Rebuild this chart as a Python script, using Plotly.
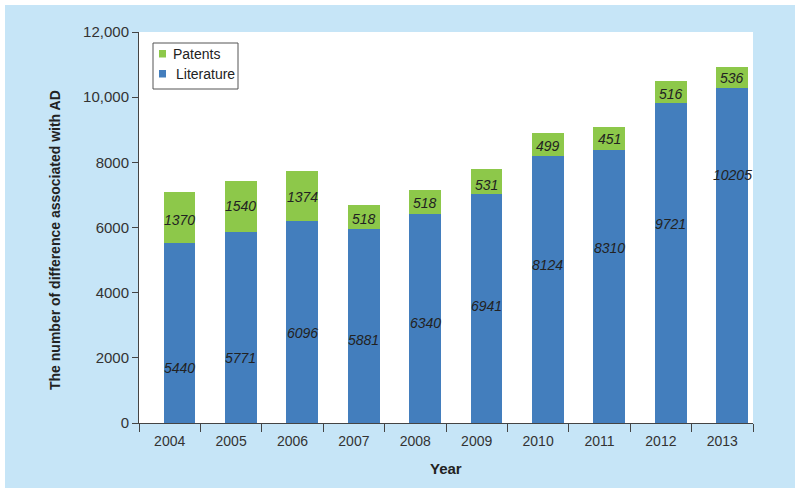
import plotly.graph_objects as go

years = ["2004", "2005", "2006", "2007", "2008", "2009", "2010", "2011", "2012", "2013"]
# bar heights as drawn in the picture
literature_height = [5513, 5870, 6189, 5953, 6423, 7028, 8205, 8381, 9816, 10276]
patents_height = [1586, 1548, 1537, 728, 728, 759, 689, 697, 694, 665]
# printed labels
literature_label = [5440, 5771, 6096, 5881, 6340, 6941, 8124, 8310, 9721, 10205]
patents_label = [1370, 1540, 1374, 518, 518, 531, 499, 451, 516, 536]
# label vertical placement (data units)
literature_label_y = [1690, 1998, 2766, 2551, 3082, 3605, 4856, 5378, 6116, 7600]
patents_label_y = [6217, 6669, 6924, 6269, 6752, 7314, 8491, 8728, 10101, 10593]

y_tickvals = [0, 2000, 4000, 6000, 8000, 10000, 12000]
y_ticktext = ["0", "2000", "4000", "6000", "8000", "10,000", "12,000"]

BLUE = "#437EBD"
GREEN = "#8DC84A"
FONT = "Liberation Sans, Arial, Helvetica, sans-serif"

L, T, PW, PH = 139, 32, 614, 391


def px(xp):
    return (xp - L) / PW


def py(yp):
    return (T + PH - yp) / PH


fig = go.Figure()
fig.add_trace(go.Bar(x=years, y=literature_height, name="Literature", marker=dict(color=BLUE, line=dict(width=0)),
                     width=0.52, offset=-0.1, showlegend=False))
fig.add_trace(go.Bar(x=years, y=patents_height, name="Patents", marker=dict(color=GREEN, line=dict(width=0)),
                     width=0.52, offset=-0.1, showlegend=False))

ann = []
for i in range(len(years)):
    ann.append(dict(x=i + 0.16, y=literature_label_y[i], xref="x", yref="y",
                    text="<i>%d</i>" % literature_label[i],
                    showarrow=False, font=dict(family=FONT, size=14, color="#222"),
                    xanchor="center", yanchor="middle"))
    ann.append(dict(x=i + 0.16, y=patents_label_y[i], xref="x", yref="y",
                    text="<i>%d</i>" % patents_label[i],
                    showarrow=False, font=dict(family=FONT, size=14, color="#222"),
                    xanchor="center", yanchor="middle"))

# axis titles
ann.append(dict(x=px(55), y=py(240), xref="paper", yref="paper",
                text="<b>The number of difference associated with AD</b>", textangle=-90,
                showarrow=False, font=dict(family=FONT, size=14, color="#222"),
                xanchor="center", yanchor="middle"))
ann.append(dict(x=px(446), y=py(468), xref="paper", yref="paper",
                text="<b>Year</b>", showarrow=False, font=dict(family=FONT, size=15, color="#222"),
                xanchor="center", yanchor="middle"))

# legend text
ann.append(dict(x=px(171), y=py(54), xref="paper", yref="paper", text="Patents", showarrow=False,
                font=dict(family=FONT, size=14, color="#222"), xanchor="left", yanchor="middle"))
ann.append(dict(x=px(174), y=py(74), xref="paper", yref="paper", text="Literature", showarrow=False,
                font=dict(family=FONT, size=14, color="#222"), xanchor="left", yanchor="middle"))

shapes = [
    dict(type="rect", xref="paper", yref="paper", x0=px(5), x1=px(795),
         y0=py(488), y1=py(5), fillcolor="#C6E5F7", line=dict(width=0), layer="below"),
    dict(type="rect", xref="paper", yref="paper", x0=0, x1=1, y0=0, y1=1,
         fillcolor="white", line=dict(width=0), layer="below"),
    # legend box and swatches
    dict(type="rect", xref="paper", yref="paper", x0=px(153), x1=px(238), y0=py(89), y1=py(43),
         fillcolor="white", line=dict(width=1, color="#555"), layer="above"),
    dict(type="rect", xref="paper", yref="paper", x0=px(159), x1=px(166), y0=py(57.5), y1=py(50),
         fillcolor=GREEN, line=dict(width=0), layer="above"),
    dict(type="rect", xref="paper", yref="paper", x0=px(159), x1=px(166), y0=py(77.5), y1=py(70),
         fillcolor=BLUE, line=dict(width=0), layer="above"),
]

fig.update_layout(
    width=800, height=493,
    margin=dict(l=L, r=800 - L - PW, t=T, b=493 - T - PH),
    paper_bgcolor="white", plot_bgcolor="rgba(0,0,0,0)",
    barmode="stack",
    font=dict(family=FONT, size=14, color="#333"),
    showlegend=False,
    annotations=ann,
    shapes=shapes,
    xaxis=dict(type="category", range=[-0.5, 9.5], showline=True, linecolor="#444", linewidth=1,
               ticks="outside", tickson="boundaries", ticklen=8, tickcolor="#444",
               ticklabelstandoff=5,
               showgrid=False, zeroline=False, tickfont=dict(family=FONT, size=14, color="#333")),
    yaxis=dict(range=[0, 12000], tickvals=y_tickvals, ticktext=y_ticktext, showline=True,
               linecolor="#444", linewidth=1, ticks="outside", ticklen=6, tickcolor="#444",
               showgrid=False, zeroline=False, tickfont=dict(family=FONT, size=15, color="#333")),
)

fig.write_html("out.html", post_script="document.body.style.margin='0';",
               config={"displayModeBar": False})
